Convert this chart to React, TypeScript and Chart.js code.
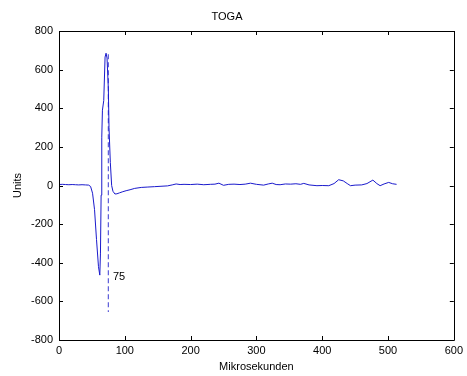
import React, { useEffect, useRef } from "react";
import { Chart, registerables } from "chart.js";

Chart.register(...registerables);

const titleText = "TOGA";
const xTitle = "Mikrosekunden";
const yTitle = "Units";

const traceX = [0, 5, 10, 15, 20, 25, 30, 35, 40, 45, 48, 51, 54, 57, 60, 62, 63, 64, 65, 66, 68, 70, 71.5, 73, 75, 76, 78, 80, 82, 85, 88, 92, 97, 102, 108, 115, 125, 135, 145, 155, 165, 172, 178, 184, 190, 200, 210, 220, 230, 237, 243, 250, 258, 266, 275, 283, 291, 300, 311, 318, 324, 330, 336, 344, 352, 360, 367, 372, 380, 386, 392, 400, 410, 418, 425, 432, 438, 443, 450, 460, 468, 477, 483, 488, 494, 501, 507, 513];
const traceY = [5, 6, 5, 4, 5, 4, 3, 4, 3, 2, -5, -40, -125, -280, -420, -464, -350, -50, 250, 390, 440, 665, 685, 660, 500, 300, 120, 0, -30, -44, -43, -38, -32, -27, -22, -15, -10, -8, -6, -4, -2, 3, 8, 5, 6, 5, 7, 4, 6, 7, 12, 1, 6, 7, 5, 7, 12, 6, 2, 8, 12, 5, 4, 8, 7, 9, 6, 11, 3, 1, -1, 0, -1, 10, 30, 24, 10, -1, 2, 3, 10, 28, 10, -1, 8, 16, 9, 6];

const markerX = [75, 75];
const markerY = [680, -655];
const markerLabel = "75";
const markerLabelX = 82;
const markerLabelY = -475;

const xTicks = [0, 100, 200, 300, 400, 500, 600];
const yTicks = [-800, -600, -400, -200, 0, 200, 400, 600, 800];

const FONT = "'Liberation Sans', Arial, sans-serif";

const boxPlugin = {
  id: "matlabBox",
  afterDatasetsDraw(chart: any) {
    const { ctx, chartArea } = chart;
    const { left, right, top, bottom } = chartArea;
    const xs = chart.scales.x;
    const ys = chart.scales.y;
    ctx.save();
    ctx.strokeStyle = "#000";
    ctx.lineWidth = 1;
    ctx.beginPath();
    ctx.rect(Math.round(left) + 0.5, Math.round(top) + 0.5, Math.round(right - left), Math.round(bottom - top));
    ctx.stroke();
    const tl = 4;
    ctx.beginPath();
    xTicks.forEach((v) => {
      const px = Math.round(xs.getPixelForValue(v)) + 0.5;
      ctx.moveTo(px, bottom);
      ctx.lineTo(px, bottom - tl);
      ctx.moveTo(px, top);
      ctx.lineTo(px, top + tl);
    });
    yTicks.forEach((v) => {
      const py = Math.round(ys.getPixelForValue(v)) + 0.5;
      ctx.moveTo(left, py);
      ctx.lineTo(left + tl, py);
      ctx.moveTo(right, py);
      ctx.lineTo(right - tl, py);
    });
    ctx.stroke();
    ctx.fillStyle = "#000";
    ctx.font = `11px ${FONT}`;
    ctx.textAlign = "left";
    ctx.textBaseline = "middle";
    ctx.fillText(markerLabel, xs.getPixelForValue(markerLabelX), ys.getPixelForValue(markerLabelY));
    ctx.restore();
  },
};

export default function App() {
  const ref = useRef<HTMLCanvasElement>(null);
  useEffect(() => {
    if (!ref.current) return;
    const chart = new Chart(ref.current, {
      type: "scatter",
      data: {
        datasets: [
          {
            data: traceX.map((x, i) => ({ x, y: traceY[i] })),
            showLine: true,
            borderColor: "#1a1acc",
            borderWidth: 1,
            pointRadius: 0,
            tension: 0,
          },
          {
            data: markerX.map((x, i) => ({ x, y: markerY[i] })),
            showLine: true,
            borderColor: "#5a5ad8",
            borderWidth: 1.2,
            borderDash: [5, 3],
            pointRadius: 0,
          },
        ],
      },
      options: {
        animation: false,
        responsive: false,
        layout: { padding: { left: 0, right: 13, top: 0, bottom: 0 } },
        plugins: {
          legend: { display: false },
          tooltip: { enabled: false },
          title: {
            display: true,
            text: titleText,
            color: "#000",
            font: { family: FONT, size: 11, weight: "normal" },
            padding: { top: 10, bottom: 7.8 },
          },
        },
        scales: {
          x: {
            type: "linear",
            min: 0,
            max: 600,
            afterBuildTicks: (s: any) => {
              s.ticks = xTicks.map((v) => ({ value: v }));
            },
            afterFit: (s: any) => {
              s.height = 36;
            },
            grid: { display: false, drawTicks: false },
            border: { display: false },
            ticks: { color: "#000", padding: 4, font: { family: FONT, size: 11 }, maxRotation: 0 },
            title: {
              display: true,
              text: xTitle,
              color: "#000",
              font: { family: FONT, size: 11 },
              padding: { top: 2.4, bottom: 2.4 },
            },
          },
          y: {
            type: "linear",
            min: -800,
            max: 800,
            afterBuildTicks: (s: any) => {
              s.ticks = yTicks.map((v) => ({ value: v }));
            },
            afterFit: (s: any) => {
              s.width = 59;
            },
            grid: { display: false, drawTicks: false },
            border: { display: false },
            ticks: { color: "#000", padding: 6, font: { family: FONT, size: 11 } },
            title: {
              display: true,
              text: yTitle,
              color: "#000",
              font: { family: FONT, size: 11 },
              padding: { top: 11.4, bottom: 11.4 },
            },
          },
        },
      },
      plugins: [boxPlugin],
    } as any);
    return () => chart.destroy();
  }, []);
  return (
    <div style={{ position: "fixed", left: 0, top: 0, width: 467, height: 376, background: "#fff" }}>
      <canvas ref={ref} width={467} height={376} style={{ display: "block" }} />
    </div>
  );
}
